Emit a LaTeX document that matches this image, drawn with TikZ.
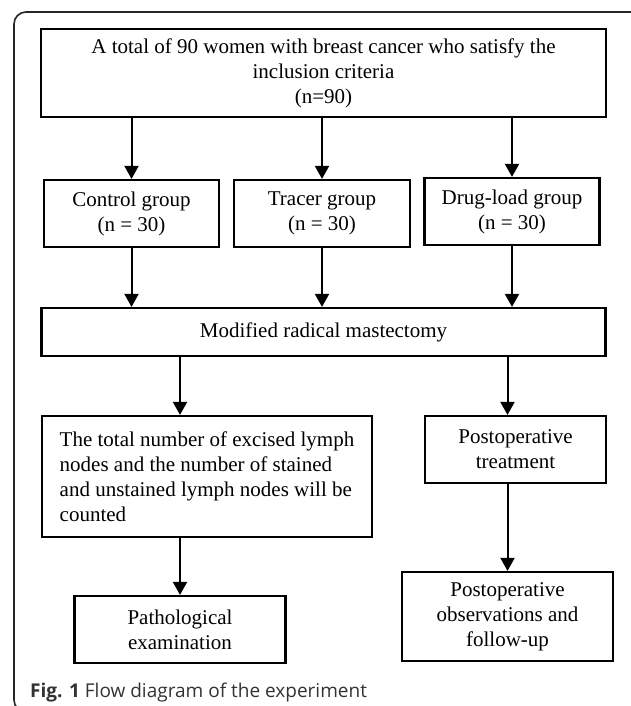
\documentclass[tikz,border=0pt]{standalone}
\usepackage{fontspec}
\setmainfont{Liberation Serif}
\newfontfamily\capfont{Open Sans}
\usepackage{tikz}
\usetikzlibrary{arrows.meta,positioning}

\begin{document}
\begin{tikzpicture}[node distance=2cm,on grid,
    block/.style={draw,line width=2.2pt,align=center,inner sep=0pt,
      font=\fontsize{21}{25}\selectfont},
    flow/.style={-{Triangle[width=14pt,length=13pt]},line width=2pt},
    frame/.style={draw=black!85,line width=1.6pt,rounded corners=12pt}]
   \useasboundingbox (0,0) rectangle (631pt,-706pt);
   \clip (0,0) rectangle (631pt,-706pt);
   \draw[frame] (14pt,-12pt) rectangle (660pt,-712pt);
   \node[block,minimum width=565pt,minimum height=88pt] (top) at (323.5pt,-73pt)
      {A total of 90 women with breast cancer who satisfy the\\inclusion criteria\\(n=90)};
   \node[block,minimum width=175pt,minimum height=67pt] (control) [below left=140.5pt and 192pt of top] {Control group\\(n = 30)};
   \node[block,minimum width=176pt,minimum height=67pt] (tracer) [right=190.5pt of control] {Tracer group\\(n = 30)};
   \node[block,minimum width=175pt,minimum height=67pt] (drug) [above right=2pt and 190pt of tracer] {Drug-load group\\(n = 30)};
   \node[block,minimum width=564pt,minimum height=48pt] (modified) [below=259pt of top] {Modified radical mastectomy};
   \node[block,align=left,minimum width=330pt,minimum height=121pt] (lymph) [below left=144.5pt and 116.5pt of modified]
      {The total number of excised lymph\\nodes and the number of stained\\and unstained lymph nodes will be\\counted};
   \node[block,minimum width=181pt,minimum height=67pt] (treat) [above right=27pt and 308.5pt of lymph] {Postoperative\\treatment};
   \node[block,minimum width=211pt,minimum height=67pt] (patho) [below left=153pt and 27pt of lymph] {Pathological\\examination};
   \node[block,minimum width=211pt,minimum height=89pt] (follow) [below left=167pt and 8pt of treat]
      {Postoperative\\observations and\\follow-up};
   \node[anchor=base west,inner sep=0pt,text=black!80,font=\capfont\fontsize{19}{22}\selectfont] (caption) at (30pt,-697pt)
      {\textbf{Fig. 1} Flow diagram of the experiment};
    \path[flow]
    (top.south -| control) edge (control)
    (top.south -| tracer) edge (tracer)
    (top.south -| drug) edge (drug)
    (control) edge (modified.north -| control)
    (tracer) edge (modified.north -| tracer)
    (drug) edge (modified.north -| drug)
    (modified.south -| patho) edge (lymph.north -| patho)
    (modified.south -| follow) edge (treat.north -| follow)
    (lymph.south -| patho) edge (patho)
    (treat.south -| follow) edge (follow);
\end{tikzpicture}
\end{document}
